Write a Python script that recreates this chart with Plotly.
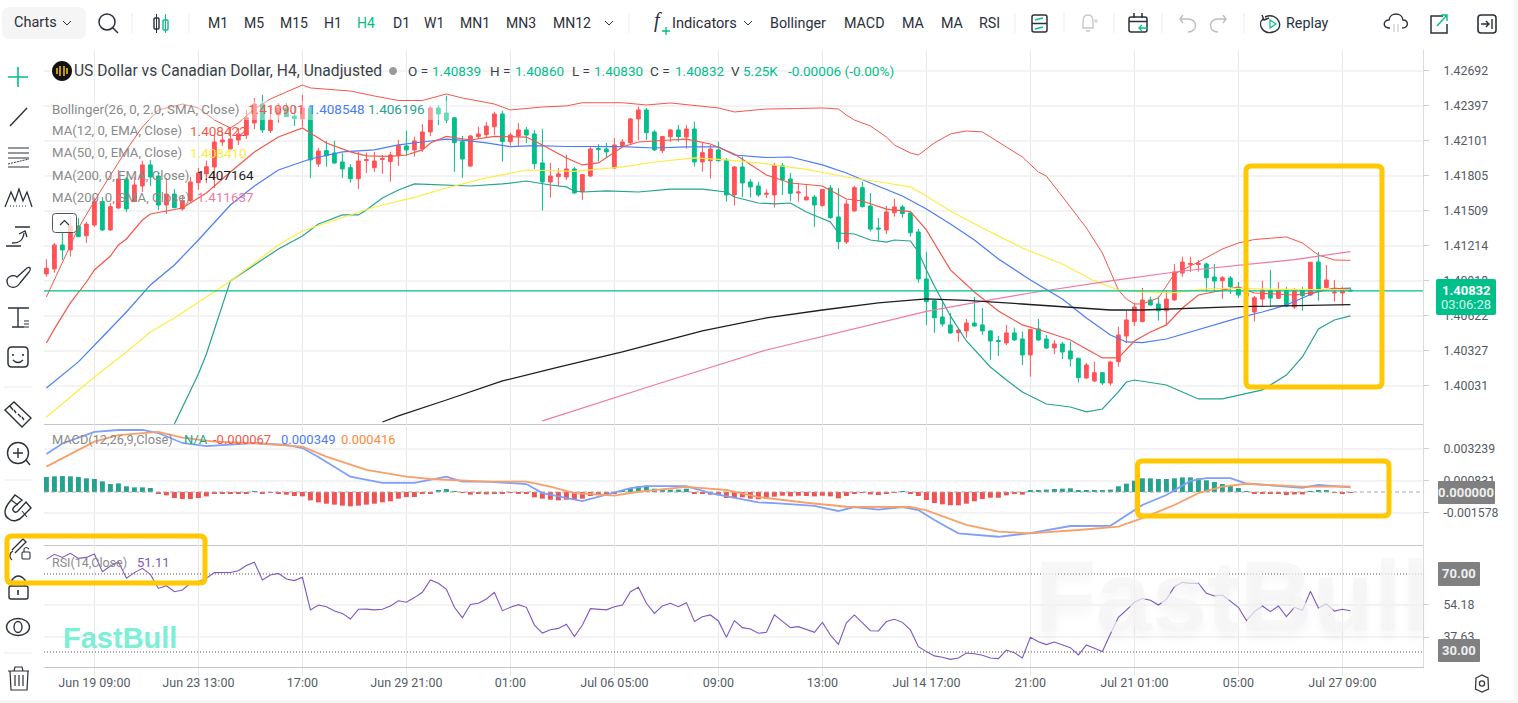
import re
import plotly.graph_objects as go

W, H = 1518, 703

# ---- H4 candles, USD/CAD ----
OPEN = [1.40975,1.41017,1.41220,1.41178,1.41381,1.41298,1.41389,1.41587,1.41347,1.41533,
1.41778,1.41587,1.41719,1.41897,1.41803,1.41558,1.41651,1.41525,1.41595,1.41747,
1.41821,1.41880,1.42091,1.42032,1.42108,1.42150,1.42252,1.42412,1.42187,1.42320,
1.42379,1.42311,1.42286,1.42379,1.41905,1.42018,1.41998,1.41922,1.41874,1.41781,
1.41933,1.41874,1.41943,1.41925,1.41975,1.42058,1.42024,1.42032,1.42176,1.42379,
1.42336,1.42295,1.42094,1.41888,1.42136,1.42153,1.42220,1.42328,1.42094,1.42142,
1.42193,1.42159,1.41914,1.41753,1.41798,1.41795,1.41863,1.41671,1.41803,1.42036,
1.42032,1.41871,1.42058,1.42085,1.42286,1.42362,1.42176,1.42018,1.42136,1.42193,
1.42133,1.42201,1.41922,1.41933,1.42024,1.41939,1.41643,1.41880,1.41753,1.41719,
1.41649,1.41643,1.41891,1.41778,1.41660,1.41601,1.41626,1.41553,1.41702,1.41457,
1.41245,1.41508,1.41705,1.41550,1.41364,1.41347,1.41493,1.41542,1.41491,1.41330,
1.40933,1.40749,1.40611,1.40544,1.40479,1.40493,1.40560,1.40544,1.40493,1.40412,
1.40391,1.40476,1.40425,1.40290,1.40510,1.40425,1.40349,1.40383,1.40324,1.40262,
1.40095,1.40070,1.40140,1.40053,1.40233,1.40450,1.40572,1.40572,1.40755,1.40721,
1.40664,1.40755,1.40983,1.41055,1.41055,1.41059,1.40949,1.40918,1.40941,1.40856,
1.40789,1.40653,1.40763,1.40833,1.40769,1.40833,1.40696,1.40839,1.40797,1.41076,
1.40859,1.40814,1.40814,1.40839]
HIGH = [1.41099,1.41237,1.41333,1.41465,1.41448,1.41417,1.41620,1.41626,1.41575,1.41854,
1.41795,1.41795,1.41933,1.41939,1.41832,1.41787,1.41693,1.41634,1.41795,1.41871,
1.41933,1.42150,1.42178,1.42218,1.42210,1.42362,1.42463,1.42489,1.42387,1.42421,
1.42421,1.42396,1.42489,1.42404,1.42041,1.42100,1.42102,1.42001,1.41905,1.42009,
1.42001,1.42007,1.41981,1.42009,1.42108,1.42187,1.42136,1.42243,1.42396,1.42404,
1.42483,1.42302,1.42142,1.42150,1.42220,1.42260,1.42347,1.42356,1.42170,1.42252,
1.42218,1.42193,1.42201,1.41914,1.41871,1.41984,1.41880,1.41821,1.42058,1.42074,
1.42083,1.42125,1.42116,1.42294,1.42390,1.42379,1.42193,1.42142,1.42201,1.42235,
1.42235,1.42263,1.42083,1.42066,1.42094,1.41956,1.41888,1.41967,1.41778,1.41755,
1.41691,1.41914,1.41914,1.41829,1.41744,1.41736,1.41643,1.41693,1.41727,1.41702,
1.41601,1.41719,1.41755,1.41660,1.41448,1.41550,1.41609,1.41558,1.41493,1.41355,
1.41163,1.40755,1.40755,1.40645,1.40505,1.40594,1.40780,1.40687,1.40501,1.40450,
1.40544,1.40521,1.40487,1.40510,1.40594,1.40459,1.40417,1.40402,1.40402,1.40265,
1.40222,1.40233,1.40145,1.40241,1.40529,1.40662,1.40730,1.40856,1.40783,1.40783,
1.40839,1.41059,1.41121,1.41121,1.41093,1.41071,1.41059,1.40958,1.40958,1.40909,
1.40839,1.40789,1.40918,1.41009,1.40907,1.40867,1.40856,1.40867,1.41076,1.41161,
1.41051,1.40924,1.40867,1.40860]
LOW = [1.40952,1.40986,1.41093,1.41121,1.41288,1.41237,1.41372,1.41340,1.41340,1.41525,
1.41499,1.41584,1.41668,1.41719,1.41516,1.41482,1.41533,1.41510,1.41578,1.41685,
1.41744,1.41702,1.42058,1.42028,1.42066,1.42116,1.42201,1.42167,1.42167,1.42252,
1.42302,1.42226,1.42220,1.41787,1.41880,1.41882,1.41905,1.41787,1.41747,1.41693,
1.41829,1.41838,1.41821,1.41755,1.41888,1.41975,1.41967,1.42007,1.42142,1.42235,
1.42252,1.41840,1.41789,1.41880,1.42116,1.42128,1.42150,1.41925,1.42060,1.42058,
1.42083,1.41863,1.41510,1.41620,1.41719,1.41770,1.41651,1.41601,1.41795,1.41925,
1.41964,1.41863,1.42049,1.42066,1.42108,1.42108,1.42015,1.41998,1.42091,1.42094,
1.42034,1.41882,1.41840,1.41781,1.41925,1.41587,1.41553,1.41626,1.41620,1.41629,
1.41617,1.41536,1.41643,1.41592,1.41587,1.41598,1.41372,1.41544,1.41440,1.41186,
1.41228,1.41502,1.41536,1.41333,1.41254,1.41313,1.41460,1.41451,1.41290,1.40901,
1.40544,1.40478,1.40529,1.40468,1.40400,1.40436,1.40529,1.40459,1.40247,1.40281,
1.40374,1.40408,1.40205,1.40106,1.40408,1.40340,1.40298,1.40256,1.40191,1.40056,
1.40087,1.40061,1.40036,1.40030,1.40191,1.40391,1.40535,1.40565,1.40708,1.40580,
1.40544,1.40746,1.40952,1.40992,1.40994,1.40825,1.40825,1.40763,1.40806,1.40772,
1.40755,1.40572,1.40698,1.40696,1.40763,1.40696,1.40679,1.40664,1.40789,1.40749,
1.40855,1.40741,1.40707,1.40830]
CLOSE = [1.41023,1.41220,1.41178,1.41381,1.41290,1.41397,1.41587,1.41347,1.41544,1.41778,
1.41525,1.41727,1.41897,1.41795,1.41558,1.41651,1.41535,1.41595,1.41753,1.41829,
1.41882,1.42091,1.42108,1.42116,1.42159,1.42297,1.42412,1.42193,1.42277,1.42379,
1.42305,1.42288,1.42379,1.41939,1.42015,1.41975,1.41914,1.41863,1.41781,1.41930,
1.41943,1.41930,1.41952,1.41981,1.42060,1.42024,1.42100,1.42176,1.42379,1.42328,
1.42277,1.42085,1.41947,1.42142,1.42159,1.42226,1.42328,1.42094,1.42150,1.42193,
1.42150,1.41908,1.41753,1.41803,1.41821,1.41863,1.41660,1.41815,1.42032,1.42028,
1.42007,1.42066,1.42091,1.42286,1.42362,1.42170,1.42024,1.42138,1.42193,1.42136,
1.42201,1.41922,1.42001,1.42032,1.41933,1.41643,1.41880,1.41744,1.41711,1.41643,
1.41657,1.41891,1.41770,1.41657,1.41668,1.41626,1.41558,1.41689,1.41451,1.41248,
1.41567,1.41705,1.41544,1.41355,1.41355,1.41499,1.41542,1.41485,1.41324,1.40933,
1.40741,1.40605,1.40552,1.40476,1.40501,1.40560,1.40535,1.40493,1.40408,1.40404,
1.40476,1.40417,1.40290,1.40505,1.40417,1.40349,1.40383,1.40315,1.40256,1.40098,
1.40205,1.40140,1.40053,1.40230,1.40459,1.40586,1.40696,1.40755,1.40713,1.40664,
1.40763,1.40992,1.41076,1.41064,1.41064,1.40943,1.40915,1.40943,1.40867,1.40797,
1.40814,1.40774,1.40839,1.40771,1.40833,1.40704,1.40833,1.40791,1.41074,1.40848,
1.40924,1.40822,1.40833,1.40832]
BARS = list(range(len(CLOSE)))

# ---- overlays: bar number and value for each indicator ----
BB_UP_X = [0,2,4,7,10,12,14,17,19,21,23,24,26,28,30,32,33,38,41,44,47,50,52,56,58,62,65,67,72,75,78,84,86,90,94,97,99,100,101,103,105,106,108,109,111,113,115,117,119,122,124,125,128,130,132,134,135,136,137,139,141,144,147,149,151,155,157,159,161,163]
BB_UP = [1.40780,1.41068,1.41364,1.41702,1.42024,1.42218,1.42362,1.42412,1.42379,1.42277,1.42210,1.42252,1.42370,1.42455,1.42514,1.42573,1.42548,1.42522,1.42480,1.42442,1.42442,1.42497,1.42463,1.42412,1.42362,1.42387,1.42396,1.42423,1.42423,1.42404,1.42421,1.42379,1.42345,1.42370,1.42374,1.42379,1.42370,1.42319,1.42277,1.42226,1.42133,1.42066,1.41998,1.41981,1.42083,1.42159,1.42184,1.42176,1.42091,1.41964,1.41837,1.41803,1.41541,1.41364,1.41152,1.40839,1.40763,1.40721,1.40721,1.40772,1.40975,1.41076,1.41186,1.41237,1.41266,1.41288,1.41237,1.41135,1.41093,1.41090]

BB_MID_X = [0,4,7,10,13,16,19,23,26,29,33,37,41,44,47,50,53,55,58,61,65,72,76,80,84,86,90,93,97,100,103,107,110,113,116,119,123,127,130,133,135,137,140,145,149,152,155,157,159,161,163]
BB_MID = [1.40011,1.40231,1.40442,1.40653,1.40882,1.41051,1.41262,1.41558,1.41719,1.41854,1.41947,1.42007,1.42024,1.42066,1.42091,1.42116,1.42100,1.42083,1.42051,1.42061,1.42053,1.42051,1.42040,1.42049,1.42049,1.41981,1.41960,1.41964,1.41897,1.41829,1.41744,1.41634,1.41524,1.41398,1.41262,1.41102,1.40924,1.40763,1.40603,1.40459,1.40400,1.40394,1.40425,1.40527,1.40603,1.40653,1.40713,1.40772,1.40831,1.40848,1.40855]

BB_LOW_X = [16,18,19,20,21,23,26,29,32,34,35,37,39,40,42,44,46,49,53,57,60,63,65,66,67,70,74,78,82,85,86,89,91,93,95,98,99,101,103,105,106,108,109,110,111,113,115,118,120,122,125,128,130,132,134,135,136,140,144,147,149,152,155,157,159,161,163]
BB_LOW = [1.39706,1.39985,1.40129,1.40298,1.40501,1.40916,1.41051,1.41186,1.41296,1.41398,1.41423,1.41474,1.41474,1.41516,1.41618,1.41685,1.41736,1.41727,1.41719,1.41736,1.41761,1.41727,1.41711,1.41677,1.41668,1.41677,1.41668,1.41693,1.41693,1.41668,1.41626,1.41575,1.41567,1.41575,1.41499,1.41415,1.41321,1.41313,1.41262,1.41245,1.41262,1.41254,1.41161,1.41009,1.40873,1.40620,1.40408,1.40188,1.40078,1.39977,1.39875,1.39850,1.39808,1.39833,1.39977,1.40061,1.40078,1.40036,1.39918,1.39918,1.39951,1.39994,1.40120,1.40273,1.40510,1.40586,1.40620]

MA12_X = [0,1,3,5,6,8,9,10,12,13,17,20,23,26,29,32,33,35,38,40,43,45,47,48,50,53,56,60,62,65,67,69,72,74,78,80,83,86,90,93,97,100,102,105,108,110,113,116,119,122,125,128,130,132,134,136,138,140,142,144,149,151,156,159,161,163]
MA12 = [1.40391,1.40510,1.40730,1.40907,1.41009,1.41127,1.41220,1.41271,1.41431,1.41482,1.41533,1.41660,1.41837,1.42007,1.42133,1.42210,1.42167,1.42083,1.42007,1.41973,1.41969,1.41981,1.42024,1.42083,1.42138,1.42108,1.42138,1.42133,1.42066,1.41956,1.41897,1.41914,1.42049,1.42091,1.42108,1.42116,1.42074,1.41990,1.41812,1.41744,1.41719,1.41609,1.41592,1.41524,1.41502,1.41347,1.41009,1.40823,1.40662,1.40544,1.40484,1.40417,1.40341,1.40265,1.40265,1.40408,1.40484,1.40544,1.40687,1.40797,1.40865,1.40814,1.40797,1.40823,1.40856,1.40842]

MA50_X = [0,6,10,13,16,20,23,26,29,32,36,41,46,50,55,60,66,72,76,81,85,89,95,100,105,108,110,113,117,122,127,131,134,137,141,145,148,155,163]
MA50 = [1.39765,1.40104,1.40315,1.40484,1.40603,1.40780,1.40916,1.41068,1.41220,1.41338,1.41431,1.41541,1.41622,1.41702,1.41787,1.41854,1.41842,1.41880,1.41922,1.41956,1.41939,1.41914,1.41859,1.41795,1.41744,1.41711,1.41634,1.41508,1.41364,1.41195,1.41059,1.40916,1.40839,1.40823,1.40817,1.40848,1.40854,1.40844,1.40841]

EMA200_X = [42,44,50,57,64,72,82,90,97,104,110,115,122,128,133,137,149,163]
EMA200 = [1.39723,1.39774,1.39909,1.40070,1.40188,1.40315,1.40493,1.40603,1.40670,1.40730,1.40764,1.40751,1.40721,1.40696,1.40670,1.40670,1.40698,1.40716]

SMA200_X = [62,76,90,100,110,116,123,133,142,156,163]
SMA200 = [1.39732,1.40036,1.40332,1.40493,1.40658,1.40732,1.40814,1.40916,1.41000,1.41097,1.41164]

# ---- MACD(12,26,9) ----
MACD_HIST = [.00113,.00118,.00120,.00118,.00113,.00103,.00098,.00080,.00060,.00065,.00043,.00035,.00035,.00030,
-.00008,-.00025,-.00045,-.00053,-.00053,-.00045,-.00033,-.00015,-.00010,-.00015,-.00013,-.00008,.00003,-.00008,-.00005,-.00013,
-.00020,-.00030,-.00033,-.00063,-.00078,-.00088,-.00095,-.00103,-.00108,-.00103,-.00095,-.00088,-.00078,-.00070,-.00050,-.00038,
-.00038,-.00015,-.00008,.00010,.00023,.00003,-.00003,-.00020,-.00013,-.00018,-.00013,-.00008,-.00003,-.00015,-.00015,-.00040,
-.00050,-.00058,-.00063,-.00058,-.00058,-.00050,-.00030,-.00015,-.00010,-.00008,.00010,.00030,.00043,.00048,.00025,.00018,.00018,
.00018,.00025,-.00010,-.00013,-.00020,-.00025,-.00045,-.00045,-.00040,-.00050,-.00055,
-.00053,-.00035,-.00028,-.00033,-.00028,-.00030,-.00033,-.00028,-.00033,-.00048,-.00030,-.00013,-.00005,-.00018,-.00023,-.00010,
-.00002,.00002,-.00010,-.00030,-.00060,-.00083,-.00093,-.00100,-.00100,-.00088,-.00070,-.00053,-.00043,-.00043,-.00025,-.00015,-.00020,
.00013,.00010,.00018,.00023,.00025,.00028,.00013,.00010,.00010,.00010,.00018,.00043,.00063,.00085,.00103,.00103,.00098,.00098,.00103,
.00110,.00110,.00103,.00088,.00075,.00060,.00053,.00030,.00003,-.00010,-.00010,-.00010,-.00015,-.00023,-.00018,-.00018,.00005,.00008,.00008,
-.00005,-.00010,-.000067]

MACD_X = [0,2,6,9,12,14,17,20,26,30,32,34,38,42,46,48,50,52,55,60,62,67,69,73,75,80,83,89,91,96,99,101,104,107,109,111,114,119,123,128,133,137,140,143,145,148,150,157,159,163]
MACD_LINE = [.00286,.00365,.00452,.00467,.00467,.00444,.00369,.00346,.00369,.00354,.00331,.00264,.00115,.00068,.00068,.00094,.00115,.00078,.00078,.00060,-.00008,-.00068,-.00035,.00030,.00045,.00045,-.00008,-.00078,-.00083,-.00105,-.00143,-.00113,-.00133,-.00113,-.00136,-.00211,-.00311,-.00337,-.00309,-.00256,-.00254,-.00098,-.00023,.00083,.00105,.00105,.00064,.00032,.00053,.000349]

SIGNAL_X = [0,6,9,14,17,21,26,32,35,40,45,48,55,60,63,66,71,74,80,85,89,95,100,108,110,115,119,123,129,134,137,141,144,147,150,157,163]
SIGNAL_LINE = [.00191,.00379,.00429,.00452,.00409,.00379,.00367,.00341,.00266,.00166,.00115,.00098,.00078,.00078,.00040,-.00008,-.00028,.00002,.00038,.00015,-.00038,-.00081,-.00111,-.00113,-.00139,-.00248,-.00299,-.00311,-.00286,-.00261,-.00196,-.00098,-.00008,.00040,.00062,.00040,.000416]

# ---- RSI(14) ----
RSI = [77.5,80.1,78.5,80.6,78.0,78.5,80.3,71.2,74.1,76.3,67.8,70.7,72.9,69.8,62.6,64.0,60.9,61.8,65.2,66.1,
67.8,70.7,70.8,70.8,71.7,74.3,76.0,66.9,69.5,70.3,67.4,66.6,68.3,51.6,54.1,53.2,51.0,49.8,46.9,51.9,
52.0,51.6,51.9,53.6,56.3,55.5,57.9,60.6,66.9,65.2,62.1,52.9,47.6,54.4,55.0,57.2,60.6,51.2,52.9,54.3,
52.9,43.8,39.7,41.4,42.1,44.2,37.9,43.8,52.2,52.0,51.6,53.2,54.1,60.9,63.2,55.0,49.8,53.6,55.0,53.2,
55.3,45.6,48.1,49.0,45.9,37.5,46.1,42.5,41.8,39.6,
40.1,49.0,45.7,42.5,43.0,41.6,40.1,45.2,38.7,33.9,45.0,49.0,45.0,40.9,40.8,45.6,46.8,45.2,41.3,32.7,
30.2,28.0,27.3,26.2,26.9,29.5,29.1,28.3,26.9,26.6,31.0,29.6,26.9,37.5,35.3,33.8,35.1,33.6,32.2,28.5,
33.6,31.9,30.2,39.2,47.8,51.5,55.5,57.4,56.5,54.1,57.0,63.5,65.7,65.2,65.2,60.1,58.7,59.2,55.8,52.9,
46.1,50.7,53.6,50.7,53.6,48.1,52.9,51.4,61.1,52.6,54.6,51.0,51.9,51.11]

# ---- axis ticks ----
TIME_TICKS = [6,19,32,45,58,71,84,97,110,123,136,149,162]
TIME_LABELS = ["Jun 19 09:00","Jun 23 13:00","17:00","Jun 29 21:00","01:00","Jul 06 05:00","09:00",
               "13:00","Jul 14 17:00","21:00","Jul 21 01:00","05:00","Jul 27 09:00"]
PRICE_TICKS = [1.42692,1.42397,1.42101,1.41805,1.41509,1.41214,1.40918,1.40622,1.40327,1.40031]
MACD_TICKS = [0.003239,0.000831,-0.001578]
RSI_TICKS = [54.18,37.63]

GREEN, RED = "#00C08A", "#FF5555"
INK, TICK = "#2B303B", "#555B66"
TEAL, BLUE = "#26A290", "#4B7CF7"
BAND_RED = "#F2584A"
FONT = "Roboto"

PANE_LEFT, PANE_RIGHT = 44, 1423
X_RANGE = [(PANE_LEFT - 46.4) / 8, (PANE_RIGHT - 46.4) / 8]


def dom(top, bottom):
    return [1 - bottom / H, 1 - top / H]


fig = go.Figure()


def add_line(x, y, color, width, axes=("x", "y")):
    fig.add_trace(go.Scatter(x=x, y=y, mode="lines", line=dict(color=color, width=width),
                             xaxis=axes[0], yaxis=axes[1], hoverinfo="skip", showlegend=False))


# price pane
fig.add_trace(go.Candlestick(
    x=BARS, open=OPEN, high=HIGH, low=LOW, close=CLOSE,
    increasing=dict(line=dict(color=RED, width=1), fillcolor=RED),
    decreasing=dict(line=dict(color=GREEN, width=1), fillcolor=GREEN),
    whiskerwidth=0, showlegend=False, hoverinfo="skip", xaxis="x", yaxis="y"))
add_line(BB_UP_X, BB_UP, BAND_RED, 1)
add_line(BB_LOW_X, BB_LOW, TEAL, 1.2)
add_line(BB_MID_X, BB_MID, BLUE, 1.2)
add_line(MA12_X, MA12, BAND_RED, 1.2)
add_line(MA50_X, MA50, "#FFEB45", 1.2)
add_line(SMA200_X, SMA200, "#EE7AA6", 1.2)
add_line(EMA200_X, EMA200, "#1E1E1E", 1.3)
add_line([X_RANGE[0], X_RANGE[1]], [CLOSE[-1], CLOSE[-1]], GREEN, 1.3)

# MACD pane
fig.add_trace(go.Bar(x=BARS, y=MACD_HIST, width=0.62, xaxis="x2", yaxis="y2", hoverinfo="skip", showlegend=False,
                     marker=dict(color=[TEAL if v >= 0 else "#F05350" for v in MACD_HIST], line=dict(width=0))))
add_line([X_RANGE[0], X_RANGE[1]], [0, 0], "#A9A9A9", 1, ("x2", "y2"))
fig.data[-1].line.dash = "4px,3px"
add_line(MACD_X, MACD_LINE, "#7F9FFA", 1.8, ("x2", "y2"))
add_line(SIGNAL_X, SIGNAL_LINE, "#F8A06A", 1.8, ("x2", "y2"))

# RSI pane
for level in (70, 30):
    add_line([X_RANGE[0], X_RANGE[1]], [level, level], "#555555", 1, ("x3", "y3"))
    fig.data[-1].line.dash = "1px,2px"
add_line(BARS, RSI, "#7E57C2", 1.1, ("x3", "y3"))


def x_axis(anchor, labelled):
    return dict(domain=[PANE_LEFT / W, PANE_RIGHT / W], range=X_RANGE, anchor=anchor,
                tickmode="array", tickvals=TIME_TICKS, ticktext=TIME_LABELS if labelled else [""] * len(TIME_TICKS),
                showgrid=True, gridcolor="#E9E9E9", gridwidth=1, zeroline=False,
                showline=True, linecolor="#C4C4CC", linewidth=1,
                ticks="outside" if labelled else "", ticklen=8, tickcolor="#E4E4E4",
                ticklabelstandoff=-4 if labelled else 0,
                tickfont=dict(family=FONT, size=12.5, color=TICK), fixedrange=True, rangeslider=dict(visible=False))


def y_axis(anchor, top, bottom, rng, ticks, labels):
    return dict(domain=dom(top, bottom), range=rng, anchor=anchor, side="right",
                tickmode="array", tickvals=ticks, ticktext=labels,
                showgrid=True, gridcolor="#F3F3F3", gridwidth=2, zeroline=False,
                showline=True, linecolor="#DADADA", linewidth=1,
                ticks="outside", ticklen=5, tickcolor="#CFCFCF", ticklabelstandoff=12,
                tickfont=dict(family=FONT, size=12.3, color=TICK), fixedrange=True)


# ---- page furniture: everything below is placed in page pixels ----
shapes, notes = [], []


def P(d, color=INK, width=1.4, fill=None, dash=None):
    nums = iter(range(10 ** 6))
    def conv(m):
        v = float(m.group(0))
        return f"{v / W:.5f}" if next(nums) % 2 == 0 else f"{1 - v / H:.5f}"
    path = re.sub(r"-?\d+\.?\d*", conv, d)
    shapes.append(dict(type="path", xref="paper", yref="paper", path=path, layer="above",
                       line=dict(color=color, width=width, dash=dash) if width else dict(width=0),
                       fillcolor=fill or "rgba(0,0,0,0)"))


def RR(x0, y0, x1, y1, r):
    return (f"M{x0 + r} {y0} L{x1 - r} {y0} Q{x1} {y0} {x1} {y0 + r} L{x1} {y1 - r} Q{x1} {y1} {x1 - r} {y1} "
            f"L{x0 + r} {y1} Q{x0} {y1} {x0} {y1 - r} L{x0} {y0 + r} Q{x0} {y0} {x0 + r} {y0} Z")


def CI(cx, cy, rx, ry=None):
    ry = ry or rx
    k = 0.5523
    return (f"M{cx - rx} {cy} C{cx - rx} {cy - k * ry} {cx - k * rx} {cy - ry} {cx} {cy - ry} "
            f"C{cx + k * rx} {cy - ry} {cx + rx} {cy - k * ry} {cx + rx} {cy} "
            f"C{cx + rx} {cy + k * ry} {cx + k * rx} {cy + ry} {cx} {cy + ry} "
            f"C{cx - k * rx} {cy + ry} {cx - rx} {cy + k * ry} {cx - rx} {cy} Z")


def T(x, y, text, color=INK, size=14, anchor="left", family=FONT, **font):
    # annotations carry a small inner pad, taken back here for left-aligned text
    notes.append(dict(xref="paper", yref="paper", x=(x - 2 if anchor == "left" else x) / W, y=1 - y / H,
                      text=text, showarrow=False, xanchor=anchor, yanchor="middle",
                      font=dict(family=family, size=size, color=color, **font)))


# outer page tint
P(f"M0 700 L{W} 700 L{W} {H} L0 {H} Z", width=0, fill="#F5F5F5")
P(f"M1514 0 L{W} 0 L{W} {H} L1514 {H} Z", width=0, fill="#F7F7F7")

# top toolbar
P(RR(2, 7, 86, 39, 8), width=0, fill="#F5F5F5")
T(14, 23, "Charts", size=14.5)
P("M63 21 L67 25 L71 21", width=1)
P(CI(107, 22, 8) + " M113 28 L118 33", width=1.5)
P("M156.5 14 L156.5 33", width=1)
P(RR(154, 18, 159, 29, 1), width=1.4)
P("M165.5 14 L165.5 33", color=GREEN, width=1)
P(RR(163, 20, 168, 30, 1), color=GREEN, width=1.4)
for sx in (132, 189, 629, 1015, 1064, 1114, 1162, 1244):
    P(f"M{sx} 13 L{sx} 33", color="#EDEDED", width=1)
for cx, lab in zip((218, 254, 294, 333, 366, 401, 434, 475, 521, 572),
                   ("M1", "M5", "M15", "H1", "H4", "D1", "W1", "MN1", "MN3", "MN12")):
    T(cx, 23, lab, color=GREEN if lab == "H4" else INK, size=14, anchor="center")
P("M605 21 L609 25 L613 21", width=1)
T(654, 21, "<i>f</i>", size=20, anchor="left", family="Liberation Serif")
P("M666 27 L666 35 M662 31 L670 31", color=GREEN, width=1.3)
T(672, 23, "Indicators", size=14.6)
P("M744 21 L748 25 L752 21", width=1)
for lx, lab in zip((770, 844, 902, 941, 979), ("Bollinger", "MACD", "MA", "MA", "RSI")):
    T(lx, 23, lab, size=14.3)
P(RR(1032, 15, 1047, 32, 2) + " M1032 23.5 L1047 23.5", width=1.5)
P("M1035 20 L1043 18 M1035 29 L1043 27", color=GREEN, width=1.3)
P("M1088 15 C1082 15 1083 22 1083 28 L1093 28 C1093 22 1094 15 1088 15 M1086 31 L1090 31", color="#C9C9C9", width=1.4)
P("M1094 21 L1098 21 M1096 19 L1096 23", color="#C9C9C9", width=1)
P(RR(1129, 17, 1147, 32, 2) + " M1129 21.5 L1147 21.5 M1134 13 L1134 18 M1142 13 L1142 18", width=1.5)
P("M1148 28 L1139 28 M1142 25 L1139 28 L1142 31", color=GREEN, width=1.3)
P("M1180 19 L1188 19 C1198 19 1198 32 1188 32 M1183 15 L1180 19 L1183 23", color="#BDBDBD", width=1.4)
P("M1226 19 L1218 19 C1208 19 1208 32 1218 32 M1223 15 L1226 19 L1223 23", color="#BDBDBD", width=1.4)
P("M1265 17 C1278 11 1286 29 1273 32 C1263 35 1257 24 1263 19 M1262 15 L1264 20 L1269 18", width=1.4)
P("M1270 20 L1276 24 L1270 28 Z", color=GREEN, width=1.2)
T(1286, 23, "Replay", size=14.3)
P("M1390 28 C1382 28 1383 20 1389 20 C1390 12 1402 12 1403 20 C1409 20 1409 28 1402 28", width=1.4)
P("M1394 24 L1394 32 M1398 24 L1398 32", color="#BDBDBD", width=1)
P("M1443 16 L1431 16 L1431 33 L1447 33 L1447 24", width=1.5)
P("M1437 26 L1447 15 M1441 15 L1447 15 L1447 21", color=GREEN, width=1.4)
P(RR(1478, 15, 1496, 33, 3), width=1.6)
P("M1481 24 L1489 24 M1486 21 L1489 24 L1486 27 M1492 19 L1492 29", width=1.4)

# left drawing tools
P("M18 67 L18 87 M8 77 L28 77", color=GREEN, width=1.6)
P("M10 126 L27 108", width=1.4)
P("M8 148 L29 148 M8 153 L29 153 M8 158 L29 158 M8 167 L29 167", width=1.2)
P("M8 164 L29 159", width=1, dash="2px,1px")
P("M5 207 L11 192 L15 201 L19 189 L23 201 L27 192 L32 207", width=1.3)
P("M10 206 L27 206", width=1.1, dash="1px,2px")
P("M15 227 L30 227 M6 246 L21 246", width=1.3)
P("M12 243 C20 243 23 240 24 233 M19 234 L25 231 L27 237", width=1.3)
P("M8 285 C4 276 14 274 17 277 L27 268 C31 266 31 270 29 272 L20 283 C16 289 10 288 8 285 Z", width=1.3)
P("M8 308 L29 308 M18 308 L18 327 M12 327 L24 327", width=1.4)
P("M24 321 L29 321 M24 324 L29 324 M24 327 L29 327", width=1)
P(RR(8, 347, 28, 367, 4), width=1.5)
P("M13 354 L13 356 M23 354 L23 356", width=1.6)
P("M13 360 Q18 365 23 360", width=1.3)
P("M4 387 L32 387", color="#E9E9E9", width=1)
P("M5 410 L14 402 L31 418 L22 427 Z M10 406 L13 410 M14 410 L16 413 M18 414 L21 417 M22 417 L24 420", width=1.4)
P(CI(18, 453, 10.5) + " M18 448 L18 458 M13 453 L23 453 M26 460 L30 465", width=1.4)
P("M4 480 L32 480", color="#E9E9E9", width=1)
P("M15 495 L8 504 C3 511 5 517 9 519 C13 522 19 521 23 516 L31 508 L26 502 L18 511 C15 514 11 510 14 507 L22 500 Z", width=1.4)
P("M11 500 L18 505 M22 511 L27 517", width=1.1)
P("M13 551 C9 553 9 558 12 560 M12 550 L23 539 L26 542 L15 553", width=1.3)
P(RR(22, 552, 30, 559, 1) + " M24 552 L24 549 Q26 546 29 549", width=1.1)
P(RR(9, 586, 28, 599, 2) + " M12 586 L12 580 Q18 572 25 580 L25 586", width=1.4)
P("M18 590 L18 595", width=1.6)
P(CI(18, 627, 11.5, 8.5) + " " + CI(18, 627, 4, 5.5), width=1.4)
P("M4 653 L32 653", color="#E9E9E9", width=1)
P("M8 671 L29 671 M14 671 L15 667 L22 667 L23 671 M10 671 L11 690 L27 690 L28 671 M15 675 L15 686 M19 675 L19 686 M23 675 L23 686", width=1.2)

# settings cog, lower right
P("M1476 678 L1482 675 L1488 678 L1488.5 689 L1482 692 L1475.5 689 Z " + CI(1482, 683.5, 2.6), color="#3B3B3B", width=1.3)

# pair title and quote row
P(CI(62, 71, 10), width=0, fill="#111111")
P("M57 68 L57 74 M60 66 L60 76 M64 66 L64 76 M67 68 L67 74", color="#FFC800", width=1.5)
T(74, 71, "US Dollar vs Canadian Dollar, H4, Unadjusted", color="#3A3F4A", size=15.6)
P(CI(393, 71, 4), width=0, fill="#9A9A9A")
QUOTE = [(408, "O ="), (490, "H ="), (572, "L ="), (650, "C =")]
QUOTE_VALUES = [(432, "1.40839"), (515, "1.40860"), (594, "1.40830"), (675, "1.40832")]
for qx, lab in QUOTE:
    T(qx, 71, lab, color="#3A3F4A", size=13.5)
for qx, lab in QUOTE_VALUES:
    T(qx, 71, lab, color=GREEN, size=13.5)
T(731, 71, "V", color="#3A3F4A", size=13.5)
T(743, 71, "5.25K", color=GREEN, size=13.5)
T(788, 71, "-0.00006 (-0.00%)", color=GREEN, size=13.6)

# indicator captions
P("M52 101 L450 101 L450 120 L52 120 Z", width=0, fill="rgba(255,255,255,0.4)")
GREY_CAP = "#8A8A8A"
T(52, 109, "Bollinger(26, 0, 2.0, SMA, Close)", color=GREY_CAP, size=13.3)
T(248, 109, "1.410901", color=BAND_RED, size=13.5)
T(308, 109, "1.408548", color=BLUE, size=13.5)
T(368, 109, "1.406196", color=TEAL, size=13.5)
T(52, 131, "MA(12, 0, EMA, Close)", color=GREY_CAP, size=13.2)
T(190, 131, "1.408422", color=BAND_RED, size=13.5)
T(52, 153, "MA(50, 0, EMA, Close)", color=GREY_CAP, size=13.2)
T(190, 153, "1.408410", color="#FFEB45", size=13.5)
T(52, 175, "MA(200, 0, EMA, Close)", color=GREY_CAP, size=13.2)
T(197, 175, "1.407164", color="#1E1E1E", size=13.5)
T(52, 197, "MA(200, 0, SMA, Close)", color=GREY_CAP, size=13.2)
T(197, 197, "1.411637", color="#EE7AA6", size=13.5)
P(RR(52.5, 213.5, 76.5, 232.5, 3), color="#555555", width=1, fill="rgba(255,255,255,0.75)")
P("M60 225 L64.5 220.5 L69 225", width=1.1)

T(52, 439, "MACD(12,26,9,Close)", color=GREY_CAP, size=12.8)
T(184, 439, "N/A", color=TEAL, size=13)
T(213, 439, "-0.000067", color=BAND_RED, size=13)
T(281, 439, "0.000349", color=BLUE, size=13)
T(341, 439, "0.000416", color="#FF8A3D", size=13)
T(52, 562, "RSI(14,Close)", color=GREY_CAP, size=12.5)
T(137, 562, "51.11", color="#7E57C2", size=13)

# right-hand value flags
P(RR(1436, 279, 1496, 315, 2), width=0, fill=GREEN)
T(1466, 290, "<b>1.40832</b>", color="white", size=13, anchor="center")
T(1466, 304, "03:06:28", color="#D5F5EA", size=13, anchor="center")
P(RR(1438, 481, 1495, 504, 1), width=0, fill="#808080")
T(1466, 492, "<b>0.000000</b>", color="#EFEFEF", size=13, anchor="center")
P(RR(1438, 562, 1480, 586, 1), width=0, fill="#808080")
T(1459, 573, "<b>70.00</b>", color="#EFEFEF", size=13, anchor="center")
P(RR(1438, 639, 1480, 662, 1), width=0, fill="#808080")
T(1459, 650, "<b>30.00</b>", color="#EFEFEF", size=13, anchor="center")

# brand marks
T(1232, 596, "<b>FastBull</b>", color="rgba(244,244,244,0.72)", size=100, anchor="center",
  family="Liberation Sans", shadow="0px 8px 10px rgba(0,0,0,0.05)")
T(120, 638, "<b>FastBull</b>", color="#7CEFD6", size=29, anchor="center", family="Liberation Sans")

# highlight frames
P(RR(1246, 166, 1382, 387, 5), color="#FFC800", width=5)
P(RR(1137.5, 461, 1389, 516, 5), color="#FFC800", width=5)
P(RR(7, 536, 205, 583, 5), color="#FFC800", width=5)

fig.update_layout(
    width=W, height=H, margin=dict(l=0, r=0, t=0, b=0), paper_bgcolor="white", plot_bgcolor="white",
    showlegend=False, boxgap=0.33, dragmode=False, barmode="overlay",
    font=dict(family=FONT), shapes=shapes, annotations=notes,
    xaxis=x_axis("y", False), xaxis2=x_axis("y2", False), xaxis3=x_axis("y3", True),
    yaxis=y_axis("x", 50, 424, [1.39706, 1.42869], PRICE_TICKS, [f"{v:.5f}" for v in PRICE_TICKS]),
    yaxis2=y_axis("x2", 424, 545, [-0.00399, 0.00512], MACD_TICKS, [f"{v:.6f}" for v in MACD_TICKS]),
    yaxis3=y_axis("x3", 545, 667, [22.3, 84.87], RSI_TICKS, [f"{v:.2f}" for v in RSI_TICKS]),
)
fig.write_html("out.html", config=dict(displayModeBar=False))
